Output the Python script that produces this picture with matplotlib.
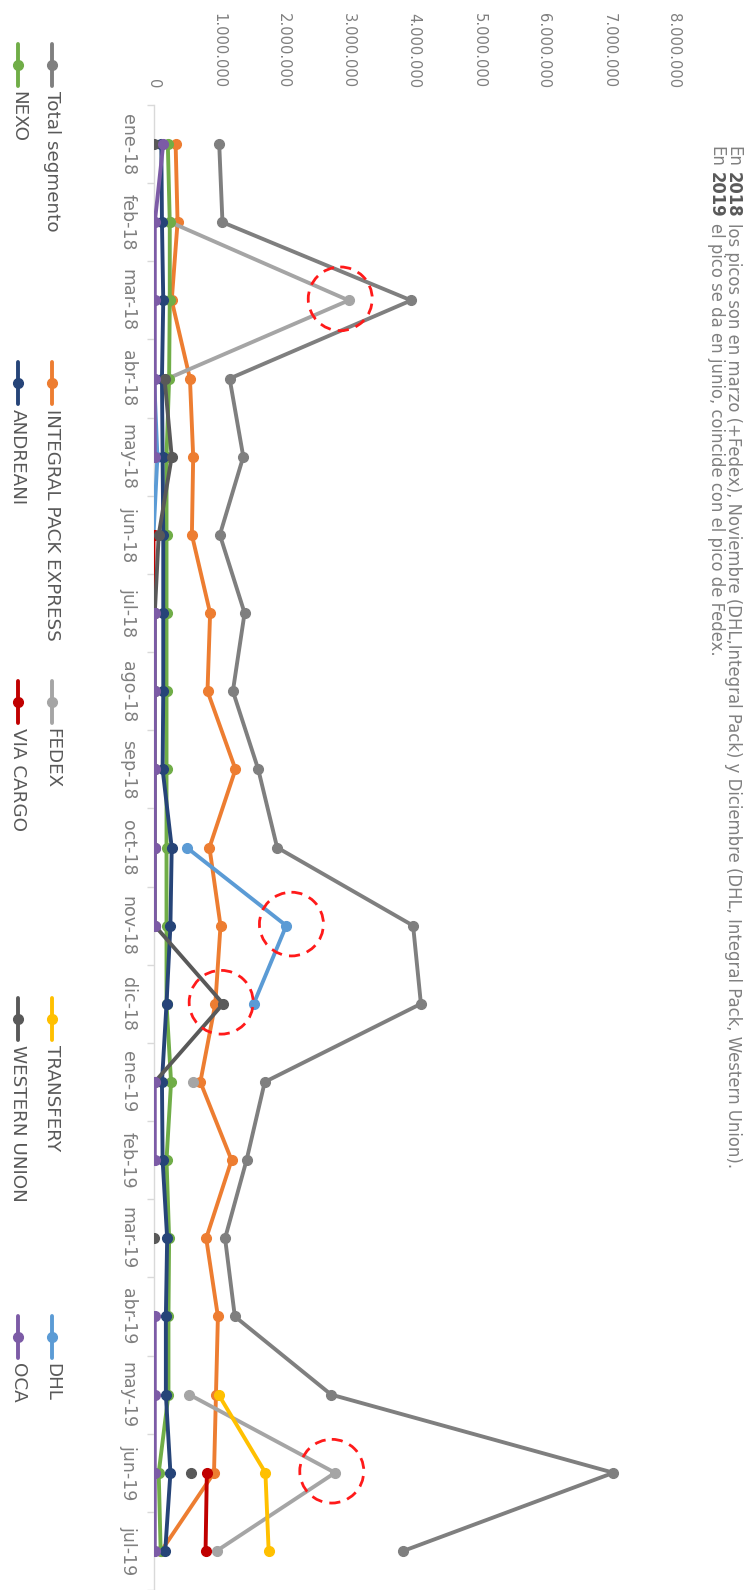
import numpy as np
import matplotlib
matplotlib.use('Agg')
import matplotlib.pyplot as plt
from matplotlib.lines import Line2D
from matplotlib.patches import Ellipse
from matplotlib.ticker import FuncFormatter
from matplotlib.font_manager import FontProperties

nan = np.nan

months = ['ene-18', 'feb-18', 'mar-18', 'abr-18', 'may-18', 'jun-18', 'jul-18',
          'ago-18', 'sep-18', 'oct-18', 'nov-18', 'dic-18', 'ene-19', 'feb-19',
          'mar-19', 'abr-19', 'may-19', 'jun-19', 'jul-19']

total_segmento = [1010000, 1060000, 3960000, 1170000, 1380000, 1020000, 1400000,
                  1220000, 1610000, 1900000, 3990000, 4110000, 1710000, 1430000,
                  1100000, 1250000, 2730000, 7070000, 3840000]
integral_pack = [340000, 370000, 280000, 560000, 610000, 590000, 870000,
                 830000, 1260000, 860000, 1030000, 950000, 720000, 1200000,
                 810000, 990000, 960000, 930000, 120000]
fedex = [nan, 260000, 3000000, 220000, nan, nan, nan,
         nan, nan, nan, nan, nan, 600000, nan,
         nan, nan, 550000, 2790000, 970000]
transfery = [nan, nan, nan, nan, nan, nan, nan,
             nan, nan, nan, nan, nan, nan, nan,
             nan, nan, 1000000, 1720000, 1770000]
dhl = [nan, nan, nan, 10000, 60000, 0, nan,
       nan, nan, 510000, 2040000, 1540000, nan, nan,
       nan, nan, nan, nan, nan]
nexo = [220000, 250000, 250000, 240000, 200000, 200000, 200000,
        200000, 200000, 200000, 200000, 200000, 270000, 200000,
        240000, 230000, 230000, 80000, 110000]
andreani = [120000, 130000, 150000, 130000, 140000, 150000, 150000,
            150000, 140000, 280000, 260000, 200000, 130000, 140000,
            210000, 190000, 190000, 260000, 180000]
via_cargo = [nan, nan, nan, nan, nan, 0, 0,
             nan, nan, nan, nan, nan, nan, nan,
             nan, nan, nan, 820000, 800000]
western_union = [0, nan, nan, 170000, 280000, 80000, 20000,
                 20000, 20000, 20000, 20000, 1070000, 20000, nan,
                 0, nan, nan, 570000, nan]
oca = [150000, 20000, 20000, 20000, 20000, nan, 20000,
       20000, 20000, 20000, 20000, nan, 20000, 20000,
       nan, 20000, 20000, 20000, 20000]

series_names = ['Total segmento', 'INTEGRAL PACK EXPRESS', 'FEDEX', 'TRANSFERY', 'DHL',
                'NEXO', 'ANDREANI', 'VIA CARGO', 'WESTERN UNION', 'OCA']
series_values = [total_segmento, integral_pack, fedex, transfery, dhl,
                 nexo, andreani, via_cargo, western_union, oca]
series_colors = ['#7f7f7f', '#ed7d31', '#a5a5a5', '#ffc000', '#5b9bd5',
                 '#70ad47', '#264478', '#c00000', '#595959', '#7c5ba6']

value_ticks = [0, 1000000, 2000000, 3000000, 4000000, 5000000, 6000000, 7000000, 8000000]

# highlighted peaks (dashed circles)
highlight_months = ['mar-18', 'nov-18', 'dic-18', 'jun-19']
highlight_values = [2870000, 2120000, 1040000, 2740000]

title_line1 = [('En', 'normal'), ('2018', 'bold'),
               ('los picos son en marzo (+Fedex), Noviembre (DHL,Integral Pack) y Diciembre (DHL, Integral Pack, Western Union).', 'normal')]
title_line2 = [('En', 'normal'), ('2019', 'bold'),
               ('el pico se da en junio, coincide con el pico de Fedex.', 'normal')]

# ---------------------------------------------------------------- layout
W, H = 748, 1590
fig = plt.figure(figsize=(W / 100, H / 100), dpi=100)
fig.patch.set_facecolor('white')

ax_left, ax_right, ax_top = 153.5, 674.0, 105.0
ax = fig.add_axes([ax_left / W, 0, (ax_right - ax_left) / W, (H - ax_top) / H])
cat_px = 78.5
n = len(months)
ypos = np.arange(n)
ax.set_xlim(0, 8000000)
ax.set_ylim(-0.5 + (H - ax_top) / cat_px, -0.5)

for i, (vals, col) in enumerate(zip(series_values, series_colors)):
    ax.plot(np.array(vals, dtype=float), ypos, color=col, lw=2.8, marker='o',
            ms=7, solid_capstyle='round', zorder=3 + i)

# dashed highlight circles
px_per_val = (ax_right - ax_left) / 8000000
r_px = 32
for m, v in zip(highlight_months, highlight_values):
    yc = months.index(m) - 0.02
    e = Ellipse((v, yc), width=2 * r_px / px_per_val, height=2 * r_px / cat_px,
                fill=False, ec='#ff1a1a', lw=2.0, ls=(0, (4, 2.6)), zorder=20)
    ax.add_patch(e)

# axes styling
for s in ['top', 'right', 'bottom']:
    ax.spines[s].set_visible(False)
ax.spines['left'].set_color('#d9d9d9')
ax.spines['left'].set_linewidth(1.0)

ax.set_xticks(value_ticks)
ax.xaxis.set_major_formatter(FuncFormatter(lambda v, p: f'{v:,.0f}'.replace(',', '.')))
ax.tick_params(axis='x', top=True, bottom=False, labeltop=True, labelbottom=False,
               length=0, pad=12, labelsize=10.6, labelcolor='#7f7f7f', labelrotation=-90)
ax.set_yticks(ypos)
ax.set_yticklabels(months)
ax.set_yticks(np.arange(-0.5, n + 0.5, 1), minor=True)
ax.tick_params(axis='y', which='major', length=0, pad=12, labelsize=12.5,
               labelcolor='#7f7f7f', labelrotation=-90)
ax.tick_params(axis='y', which='minor', length=5, width=1, color='#d9d9d9')
for lbl in ax.get_yticklabels():
    lbl.set_va('center')

# overlay in pixel coordinates for legend and title
ov = fig.add_axes([0, 0, 1, 1])
ov.set_xlim(0, W)
ov.set_ylim(H, 0)
ov.axis('off')
ov.patch.set_visible(False)

legend_rows_x = [52, 18]
legend_cols_y = [65, 383, 702, 1019, 1337]
for i, (name, col) in enumerate(zip(series_names, series_colors)):
    x = legend_rows_x[i // 5]
    yc = legend_cols_y[i % 5]
    ov.add_line(Line2D([x, x], [yc - 21, yc + 21], color=col, lw=2.8,
                       solid_capstyle='round'))
    ov.plot([x], [yc], marker='o', ms=7, color=col)
    ov.text(x, yc + 26, name, rotation=-90, ha='center', va='top',
            fontsize=13.2, color='#595959')

renderer = fig.canvas.get_renderer()


def text_w(s, fp):
    w, h, d = renderer.get_text_width_height_descent(s, fp, ismath=False)
    return w


def rich_line(x, y, pieces, size):
    fpn = FontProperties(family='DejaVu Sans', size=size)
    gap = text_w('a a', fpn) - text_w('aa', fpn)
    for k, (s, weight) in enumerate(pieces):
        fp = FontProperties(family='DejaVu Sans', size=size, weight=weight)
        col = '#595959' if weight == 'bold' else '#808080'
        ov.text(x, y, s, fontproperties=fp, color=col, rotation=-90,
                rotation_mode='anchor', ha='left', va='baseline')
        y += text_w(s, fp) + gap


rich_line(728, 146, title_line1, 11.9)
rich_line(711, 146, title_line2, 11.9)

fig.savefig('out.png', dpi=100, facecolor='white')
